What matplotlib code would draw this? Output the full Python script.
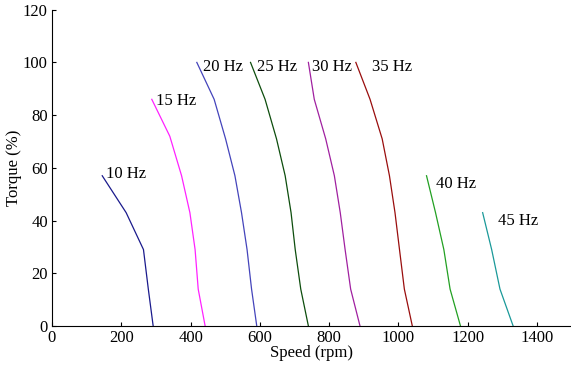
import matplotlib
matplotlib.use("Agg")
import matplotlib.pyplot as plt

plt.rcParams['font.family'] = ['Liberation Serif', 'DejaVu Serif']

freq_labels = ["10 Hz", "15 Hz", "20 Hz", "25 Hz", "30 Hz", "35 Hz", "40 Hz", "45 Hz"]
colors = ["#1a1a8c", "#ff22ff", "#4444bb", "#0d4d0d", "#a020a0", "#990d0d", "#22a022", "#1a9999"]

speed_10 = [145, 214, 264, 278, 292]
torque_10 = [57, 43, 29, 14, 0]
speed_15 = [288, 340, 374, 398, 413, 422, 442]
torque_15 = [86, 72, 57, 43, 29, 14, 0]
speed_20 = [418, 468, 501, 528, 547, 563, 576, 591]
torque_20 = [100, 86, 71, 57, 43, 29, 14, 0]
speed_25 = [573, 615, 648, 673, 690, 702, 718, 740]
torque_25 = [100, 86, 71, 57, 43, 29, 14, 0]
speed_30 = [740, 757, 790, 815, 832, 846, 862, 889]
torque_30 = [100, 86, 71, 57, 43, 29, 14, 0]
speed_35 = [877, 918, 953, 974, 990, 1003, 1017, 1040]
torque_35 = [100, 86, 71, 57, 43, 29, 14, 0]
speed_40 = [1081, 1107, 1131, 1149, 1179]
torque_40 = [57, 43, 29, 14, 0]
speed_45 = [1243, 1269, 1293, 1331]
torque_45 = [43, 29, 14, 0]

label_x = [156, 300, 436, 592, 750, 923, 1108, 1287]
label_y = [57.5, 85.5, 98.3, 98.3, 98.3, 98.3, 54, 40]

x_ticks = [0, 200, 400, 600, 800, 1000, 1200, 1400]
y_ticks = [0, 20, 40, 60, 80, 100, 120]

speeds = [speed_10, speed_15, speed_20, speed_25, speed_30, speed_35, speed_40, speed_45]
torques = [torque_10, torque_15, torque_20, torque_25, torque_30, torque_35, torque_40, torque_45]

fig = plt.figure(figsize=(5.71, 3.70), dpi=100)
ax = fig.add_axes([52/571, 44/370, 519/571, 316.3/370])

for s, t, c in zip(speeds, torques, colors):
    ax.plot(s, t, color=c, linewidth=0.9)

for lbl, lx, ly in zip(freq_labels, label_x, label_y):
    ax.text(lx, ly, lbl, fontsize=12, ha='left', va='center')

ax.set_xlim(0, 1498)
ax.set_ylim(0, 120)
ax.set_xticks(x_ticks)
ax.set_yticks(y_ticks)
ax.tick_params(direction='in', length=3, labelsize=12, width=0.8, pad=3)
ax.spines['top'].set_visible(False)
ax.spines['right'].set_visible(False)
ax.set_xlabel("Speed (rpm)", fontsize=12, labelpad=-1)
ax.set_ylabel("Torque (%)", fontsize=12, labelpad=1)

fig.savefig("out.png", dpi=100)
